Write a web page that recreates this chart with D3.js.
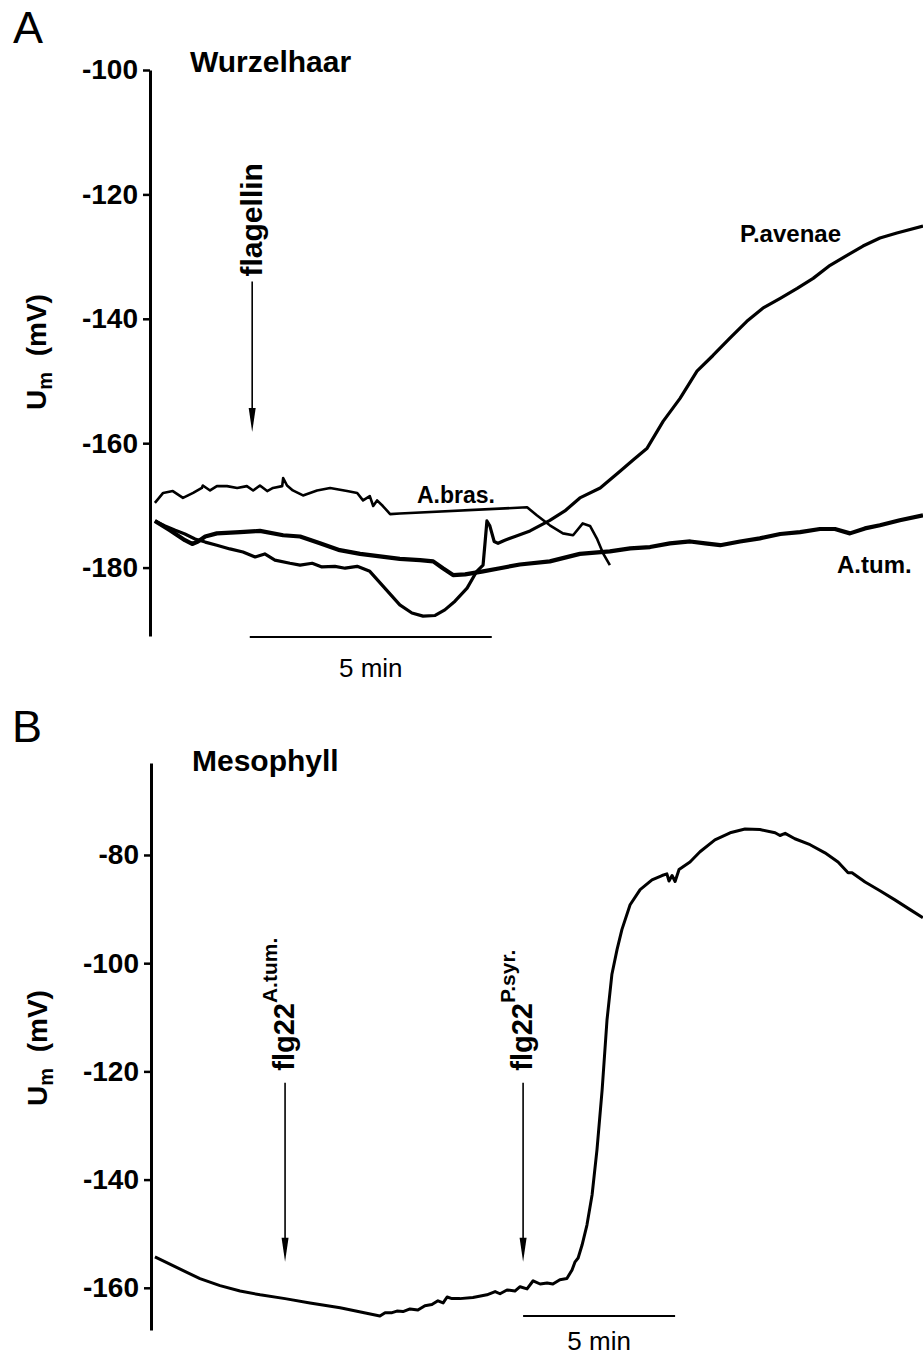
<!DOCTYPE html>
<html>
<head>
<meta charset="utf-8">
<script src="https://cdn.jsdelivr.net/npm/d3@7"></script>
<style>
  body { margin: 0; background: #fff; }
  text { font-family: "Liberation Sans", Arial, sans-serif; fill: #000; }
</style>
</head>
<body>
<svg id="chart" width="923" height="1357"></svg>
<script>
// ---- panel A: Wurzelhaar (time in min, Um in mV) ----
const aBrasT = [0.06, 0.23, 0.43, 0.64, 0.85, 1.03, 1.05, 1.20, 1.34, 1.55, 1.76, 1.96, 2.09, 2.23, 2.38, 2.50, 2.69, 2.71, 2.79, 2.91,
  3.12, 3.41, 3.68, 4.03, 4.24, 4.36, 4.50, 4.57, 4.65, 4.77, 4.92, 5.12, 7.75, 7.95, 8.22, 8.49, 8.70, 8.90, 9.05, 9.19, 9.32, 9.46];
const aBrasV = [-169.6, -168.0, -167.7, -168.8, -168.0, -167.2, -166.8, -167.6, -166.9, -166.9, -167.2, -166.9, -167.6, -166.8, -167.7, -167.2, -166.9, -165.6, -166.8, -167.6,
  -168.4, -167.6, -167.2, -167.7, -168.0, -169.2, -168.5, -170.1, -169.2, -170.1, -171.4, -171.3, -170.3, -171.6, -173.2, -174.5, -174.8, -172.9, -173.3, -175.3, -177.7, -179.6];

const pAvenaeT = [0.06, 0.27, 0.48, 0.68, 0.89, 1.10, 1.34, 1.61, 1.88, 2.13, 2.33, 2.54, 2.85, 3.06, 3.31, 3.51, 3.78, 3.99, 4.24, 4.50,
  4.81, 5.12, 5.37, 5.60, 5.85, 6.05, 6.26, 6.51, 6.71, 6.84, 6.88, 6.92, 6.98, 7.07, 7.15, 7.29, 7.50, 7.81, 8.22, 8.53,
  8.84, 9.26, 9.67, 9.94, 10.23, 10.56, 10.91, 11.26, 11.59, 11.94, 12.29, 12.62, 12.98, 13.33, 13.66, 14.01, 14.36, 14.69, 15.04, 15.39, 15.93];
const pAvenaeV = [-172.5, -173.3, -174.0, -174.6, -175.4, -175.9, -176.4, -177.0, -177.5, -178.3, -177.8, -178.8, -179.3, -179.6, -179.3, -179.9, -179.8, -180.1, -179.8, -180.6,
  -183.3, -186.0, -187.3, -187.8, -187.7, -186.8, -185.4, -183.3, -180.6, -179.6, -176.1, -172.5, -173.3, -175.8, -176.1, -175.6, -175.0, -174.1, -172.4, -170.9,
  -168.8, -167.2, -164.5, -162.7, -160.8, -156.5, -152.8, -148.4, -145.9, -143.1, -140.4, -138.3, -136.7, -135.1, -133.5, -131.4, -129.8, -128.3, -127.0, -126.2, -125.1];

const aTumT = [0.06, 0.37, 0.68, 0.83, 0.95, 1.10, 1.34, 1.82, 2.23, 2.71, 3.06, 3.47, 3.88, 4.30, 4.71, 5.12, 5.54, 5.81, 6.01, 6.22,
  6.47, 6.84, 7.19, 7.60, 8.22, 8.84, 9.46, 9.88, 10.29, 10.70, 11.12, 11.43, 11.74, 12.15, 12.56, 12.98, 13.39, 13.80, 14.11, 14.42,
  14.73, 15.04, 15.45, 15.93];
const aTumV = [-172.5, -174.0, -175.6, -176.2, -175.8, -175.0, -174.5, -174.3, -174.1, -174.8, -175.0, -176.1, -177.2, -177.8, -178.2, -178.6, -178.8, -179.0, -180.1, -181.2,
  -181.1, -180.6, -180.1, -179.5, -179.0, -177.8, -177.4, -176.9, -176.7, -176.1, -175.8, -176.1, -176.4, -175.8, -175.3, -174.6, -174.3, -173.8, -173.8, -174.5,
  -173.7, -173.2, -172.4, -171.6];

const ticksA = [-100, -120, -140, -160, -180];
const flagellinT = 2.07;
const scaleBarA = [2.02, 7.02];

// ---- panel B: Mesophyll ----
const mesoT = [0.13, 0.79, 1.61, 2.27, 2.93, 3.59, 4.41, 5.23, 6.22, 7.53, 7.70, 7.93, 8.09, 8.29, 8.52, 8.78, 9.01, 9.24, 9.44, 9.61,
  9.74, 9.90, 10.16, 10.59, 11.05, 11.32, 11.48, 11.71, 11.97, 12.14, 12.37, 12.57, 12.80, 13.03, 13.22, 13.45, 13.68, 13.85, 13.95, 14.05,
  14.18, 14.34, 14.51, 14.67, 14.84, 15.00, 15.16, 15.33, 15.49, 15.76, 16.09, 16.48, 16.81, 16.97, 17.04, 17.14, 17.24, 17.37, 17.73, 18.06,
  18.55, 19.05, 19.54, 20.03, 20.53, 20.69, 20.86, 21.18, 21.68, 22.17, 22.60, 22.93, 23.06, 23.49, 23.98, 24.47, 24.97, 25.39];
const mesoV = [-154.3, -156.1, -158.3, -159.6, -160.6, -161.3, -162.0, -162.8, -163.7, -165.2, -164.6, -164.6, -164.3, -164.4, -163.9, -164.1, -163.3, -163.1, -162.4, -162.8,
  -161.7, -162.0, -162.0, -161.8, -161.3, -160.7, -161.1, -160.4, -160.6, -159.8, -160.2, -158.7, -159.3, -159.1, -159.3, -158.5, -158.3, -156.7, -155.2, -154.5,
  -152.1, -148.4, -142.8, -134.5, -123.4, -110.5, -102.1, -97.5, -93.8, -89.2, -86.4, -84.6, -83.8, -83.5, -84.8, -83.8, -84.9, -82.7, -81.3, -79.4,
  -77.2, -75.9, -75.2, -75.3, -75.9, -76.4, -76.0, -77.0, -78.1, -79.6, -81.3, -83.3, -83.3, -85.0, -86.6, -88.3, -90.1, -91.6];

const ticksB = [-80, -100, -120, -140, -160];
const flg22T = [4.41, 12.24];
const flg22Sup = ["A.tum.", "P.syr."];
const scaleBarB = [12.24, 17.24];

const svg = d3.select('#chart');
const fontStack = '"Liberation Sans", Arial, sans-serif';

// scales
const xA = d3.scaleLinear().domain([0, 16]).range([152, 926.4]);
const yA = d3.scaleLinear().domain([-191, -100]).range([636, 70]);
const xB = d3.scaleLinear().domain([0, 25.5]).range([151, 926.2]);
const yB = d3.scaleLinear().domain([-167.8, -63]).range([1330, 763]);

// plain hyphen for negatives, like the original figure
const tickFmt = d => String(d);

function styleAxis(g) {
  g.attr('font-size', 28).attr('font-family', fontStack).attr('font-weight', 'bold');
  g.select('.domain').attr('stroke', '#000').attr('stroke-width', 3);
  g.selectAll('.tick line').attr('stroke', '#000').attr('stroke-width', 2.5);
  g.selectAll('.tick text').attr('fill', '#000');
}

function drawArrow(x, y0, y1) {
  svg.append('line')
    .attr('x1', x).attr('x2', x)
    .attr('y1', y0).attr('y2', y1 - 18)
    .attr('stroke', '#000').attr('stroke-width', 1.6);
  svg.append('path')
    .attr('d', `M${x - 3.5},${y1 - 24}L${x + 3.5},${y1 - 24}L${x},${y1}Z`)
    .attr('fill', '#000');
}

function yLabel(x, y) {
  const t = svg.append('text')
    .attr('transform', `translate(${x},${y}) rotate(-90)`)
    .attr('text-anchor', 'middle')
    .attr('font-size', 28).attr('font-weight', 'bold');
  t.append('tspan').text('U');
  t.append('tspan').attr('dy', 6).attr('font-size', 20).text('m');
  t.append('tspan').attr('dy', -6).attr('xml:space', 'preserve').text('  (mV)');
}

// ---------- panel A ----------
svg.append('text').attr('x', 13).attr('y', 43).attr('font-size', 45).text('A');
svg.append('text').attr('x', 190).attr('y', 72).attr('font-size', 30).attr('font-weight', 'bold').text('Wurzelhaar');

svg.append('g')
  .attr('transform', 'translate(150,0)')
  .call(d3.axisLeft(yA).tickValues(ticksA).tickSize(7).tickSizeOuter(0).tickPadding(5).tickFormat(tickFmt))
  .call(styleAxis);

yLabel(46, 352);

const lineA = d3.line().x(d => xA(d[0])).y(d => yA(d[1]));

svg.append('path')
  .datum(d3.zip(aTumT, aTumV))
  .attr('d', lineA)
  .attr('fill', 'none').attr('stroke', '#000').attr('stroke-width', 4.2).attr('stroke-linejoin', 'round');

svg.append('path')
  .datum(d3.zip(pAvenaeT, pAvenaeV))
  .attr('d', lineA)
  .attr('fill', 'none').attr('stroke', '#000').attr('stroke-width', 3.2).attr('stroke-linejoin', 'round');

svg.append('path')
  .datum(d3.zip(aBrasT, aBrasV))
  .attr('d', lineA)
  .attr('fill', 'none').attr('stroke', '#000').attr('stroke-width', 2.6).attr('stroke-linejoin', 'round');

svg.append('text').attr('x', 740).attr('y', 242).attr('font-size', 24).attr('font-weight', 'bold').text('P.avenae');
svg.append('text').attr('x', 837).attr('y', 573).attr('font-size', 24).attr('font-weight', 'bold').text('A.tum.');
svg.append('text').attr('x', 417).attr('y', 503).attr('font-size', 23).attr('font-weight', 'bold').text('A.bras.');

// flagellin arrow
drawArrow(xA(flagellinT), yA(-134), yA(-158.2));
svg.append('text')
  .attr('transform', `translate(${xA(flagellinT) + 10},${yA(-134) - 5}) rotate(-90)`)
  .attr('font-size', 30).attr('font-weight', 'bold')
  .text('flagellin');

// 5 min bar
svg.append('line')
  .attr('x1', xA(scaleBarA[0])).attr('x2', xA(scaleBarA[1]))
  .attr('y1', 637).attr('y2', 637)
  .attr('stroke', '#000').attr('stroke-width', 2);
svg.append('text')
  .attr('x', (xA(scaleBarA[0]) + xA(scaleBarA[1])) / 2).attr('y', 677)
  .attr('text-anchor', 'middle').attr('font-size', 26)
  .text('5 min');

// ---------- panel B ----------
svg.append('text').attr('x', 12).attr('y', 742).attr('font-size', 45).text('B');
svg.append('text').attr('x', 192).attr('y', 771).attr('font-size', 30).attr('font-weight', 'bold').text('Mesophyll');

svg.append('g')
  .attr('transform', 'translate(151,0)')
  .call(d3.axisLeft(yB).tickValues(ticksB).tickSize(7).tickSizeOuter(0).tickPadding(5).tickFormat(tickFmt))
  .call(styleAxis);

yLabel(47, 1048);

const lineB = d3.line().x(d => xB(d[0])).y(d => yB(d[1]));
svg.append('path')
  .datum(d3.zip(mesoT, mesoV))
  .attr('d', lineB)
  .attr('fill', 'none').attr('stroke', '#000').attr('stroke-width', 3).attr('stroke-linejoin', 'round');

flg22T.forEach((t, i) => {
  const x = xB(t);
  drawArrow(x, yB(-122.1), yB(-155.2));
  const lbl = svg.append('text')
    .attr('transform', `translate(${x + 9},${yB(-122.1) - 12}) rotate(-90)`)
    .attr('font-size', 29).attr('font-weight', 'bold');
  lbl.append('tspan').text('flg22');
  lbl.append('tspan').attr('dy', -17).attr('font-size', 21).text(flg22Sup[i]);
});

svg.append('line')
  .attr('x1', xB(scaleBarB[0])).attr('x2', xB(scaleBarB[1]))
  .attr('y1', 1316).attr('y2', 1316)
  .attr('stroke', '#000').attr('stroke-width', 2);
svg.append('text')
  .attr('x', (xB(scaleBarB[0]) + xB(scaleBarB[1])) / 2).attr('y', 1350)
  .attr('text-anchor', 'middle').attr('font-size', 26)
  .text('5 min');
</script>
</body>
</html>
